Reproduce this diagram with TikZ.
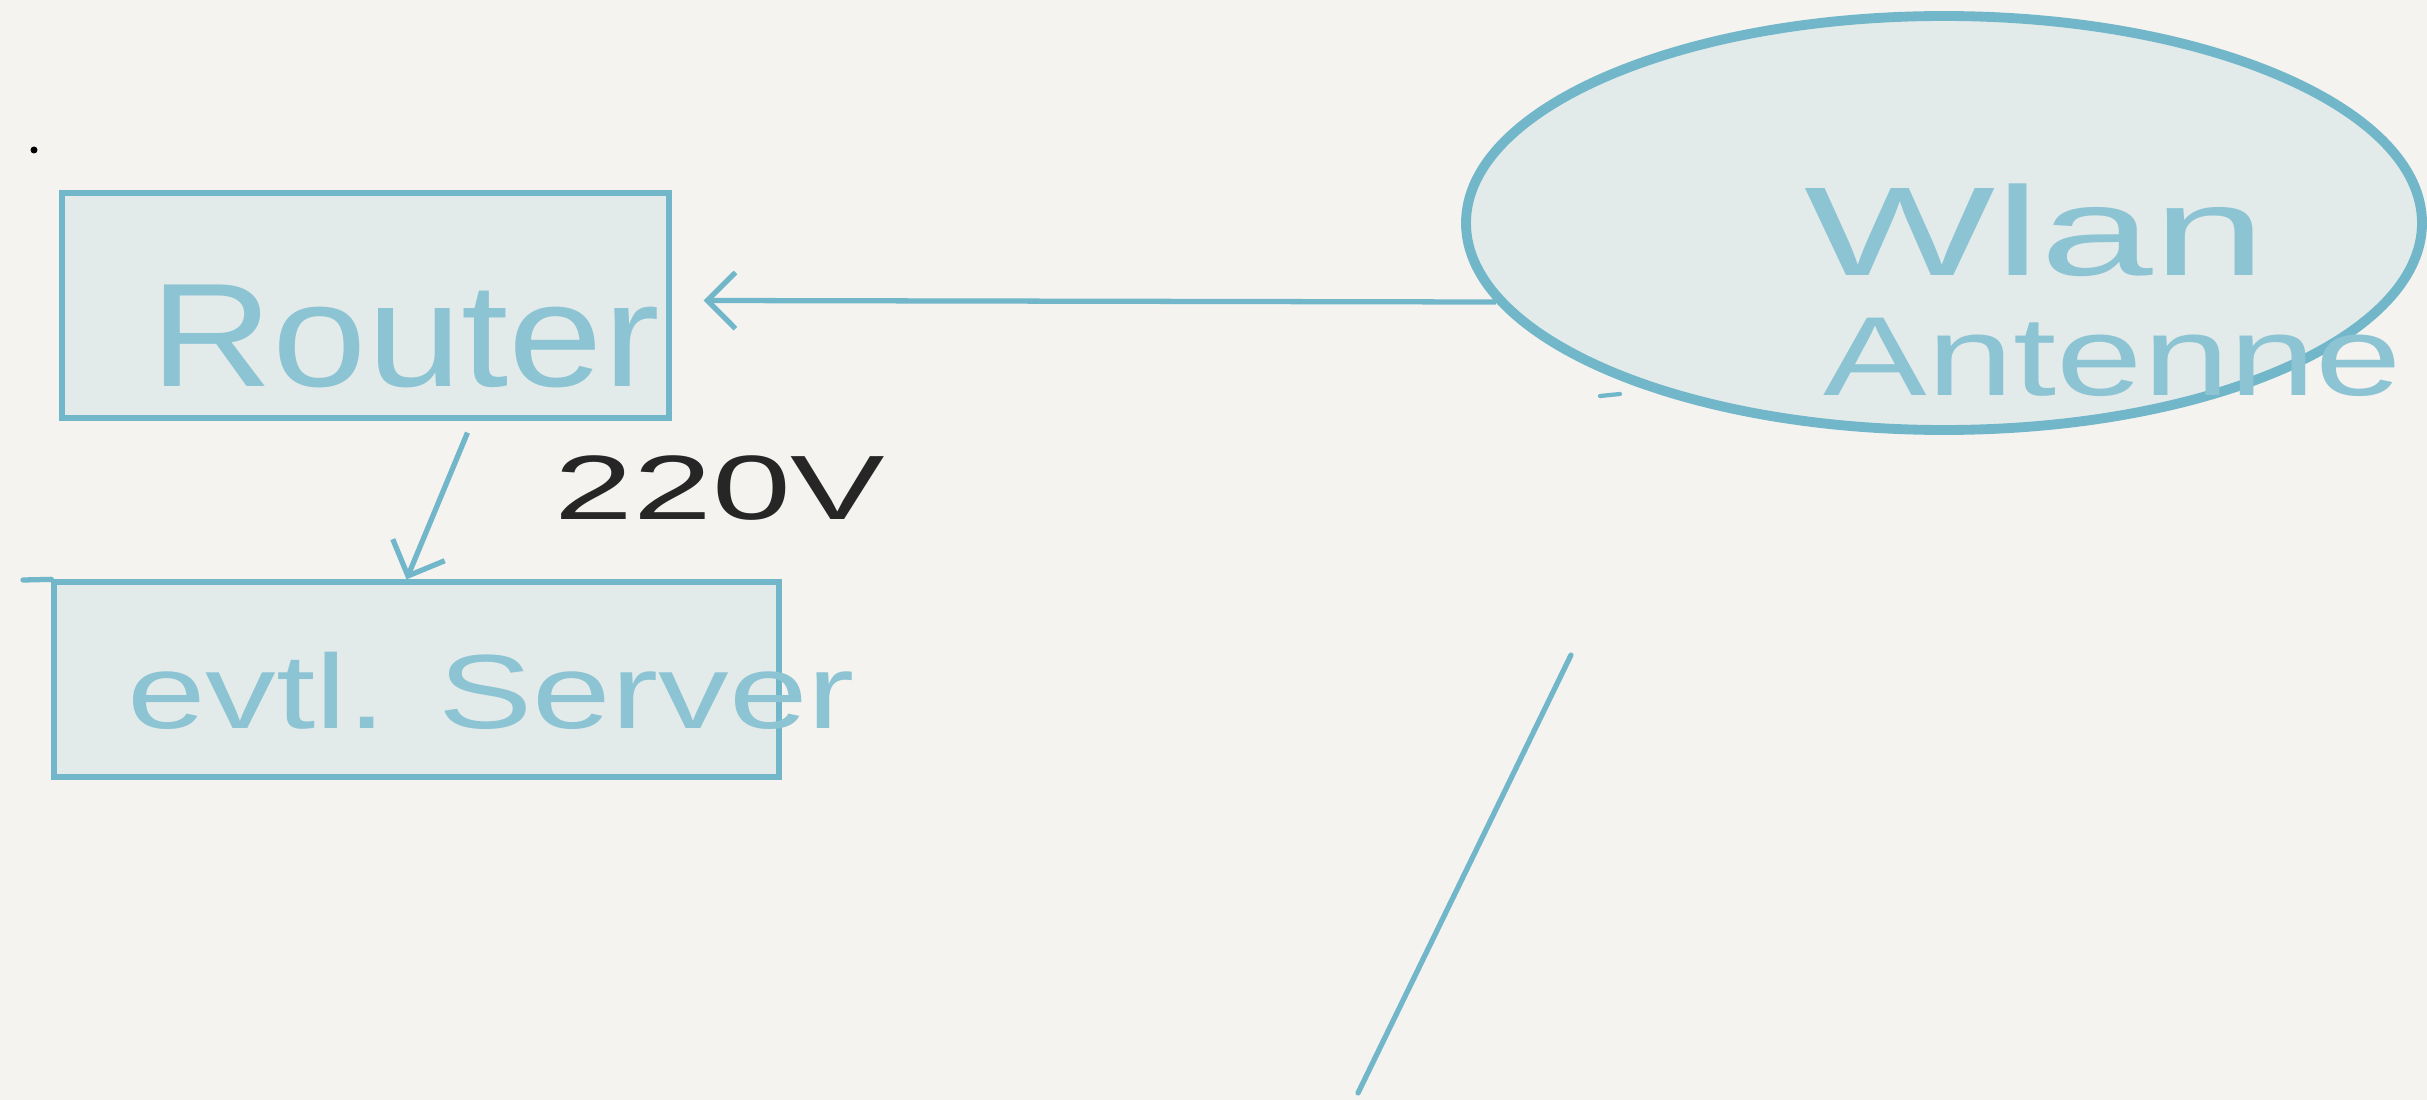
\documentclass[tikz,border=0pt]{standalone}
\usepackage{fontspec}
\setmainfont{Liberation Sans}
\usetikzlibrary{shapes.geometric,arrows.meta}
\definecolor{bg}{HTML}{F4F3EF}
\definecolor{stroke}{HTML}{72B6CA}
\definecolor{boxfill}{HTML}{E3EBEA}
\definecolor{ink}{HTML}{8CC4D4}
\definecolor{pen}{HTML}{262626}
\tikzset{
  box/.style={draw=stroke, fill=boxfill, line width=1.5pt, inner sep=0pt, rectangle},
  bubble/.style={draw=stroke, fill=boxfill, line width=2.8pt, ellipse, inner sep=0pt},
  hand/.style={text=ink, inner sep=0pt, anchor=base, font=\fontsize{42}{48}\selectfont},
  arr/.style={draw=stroke, line width=1.5pt, -{Straight Barb[length=8pt,width=16pt,line width=1.5pt]}},
  wire/.style={draw=stroke, line width=1.5pt, line cap=round}
}
\begin{document}
\begin{tikzpicture}
\fill[bg] (0,0) rectangle (24.27,-11);
\useasboundingbox (0,0) rectangle (24.27,-11);
% boxes
\node[box, minimum width=6.07cm, minimum height=2.25cm] (router) at (3.655,-3.055) {};
\node[box, minimum width=7.25cm, minimum height=1.95cm] (server) at (4.165,-6.795) {};
\coordinate (stub) at (0.23,-5.80);
\draw[wire] (stub) -- (server.north west);
\node[bubble, minimum width=9.56cm, minimum height=4.14cm] (el) at (19.44,-2.23) {};
% labels
\node[hand, xscale=1.15] (routertxt) at (4.05,-3.87) {Router};
\node[hand, font=\fontsize{30}{36}\selectfont, xscale=1.34] (servertxt) at (4.91,-7.28) {evtl. Server};
\node[hand, font=\fontsize{36}{42}\selectfont, xscale=1.6] (wlantxt) at (20.35,-2.76) {Wlan};
\node[hand, font=\fontsize{32}{38}\selectfont, xscale=1.38] (antennetxt) at (21.13,-3.95) {Antenne};
\node[text=pen, font=\fontsize{26}{32}\selectfont, xscale=1.55, inner sep=0pt, anchor=base] (volt) at (7.2,-5.19) {220V};
% connectors
\draw[arr] (el.190) -- ([xshift=0.32cm,yshift=0.05cm]router.east);
\draw[arr] ([xshift=1.02cm,yshift=-0.12cm]router.south) -- ([xshift=-0.1cm]server.north);
% free line
\coordinate (l1) at (15.71,-6.55);
\coordinate (l2) at (13.58,-10.93);
\draw[wire] (l1) -- (l2);
% small marks
\coordinate (dot1) at (0.34,-1.50);
\fill[stroke] (dot1) circle (0.035);
\coordinate (tk1) at (16.0,-3.96);
\coordinate (tk2) at (16.2,-3.94);
\draw[wire, line width=1.2pt] (tk1) -- (tk2);
\end{tikzpicture}
\end{document}
